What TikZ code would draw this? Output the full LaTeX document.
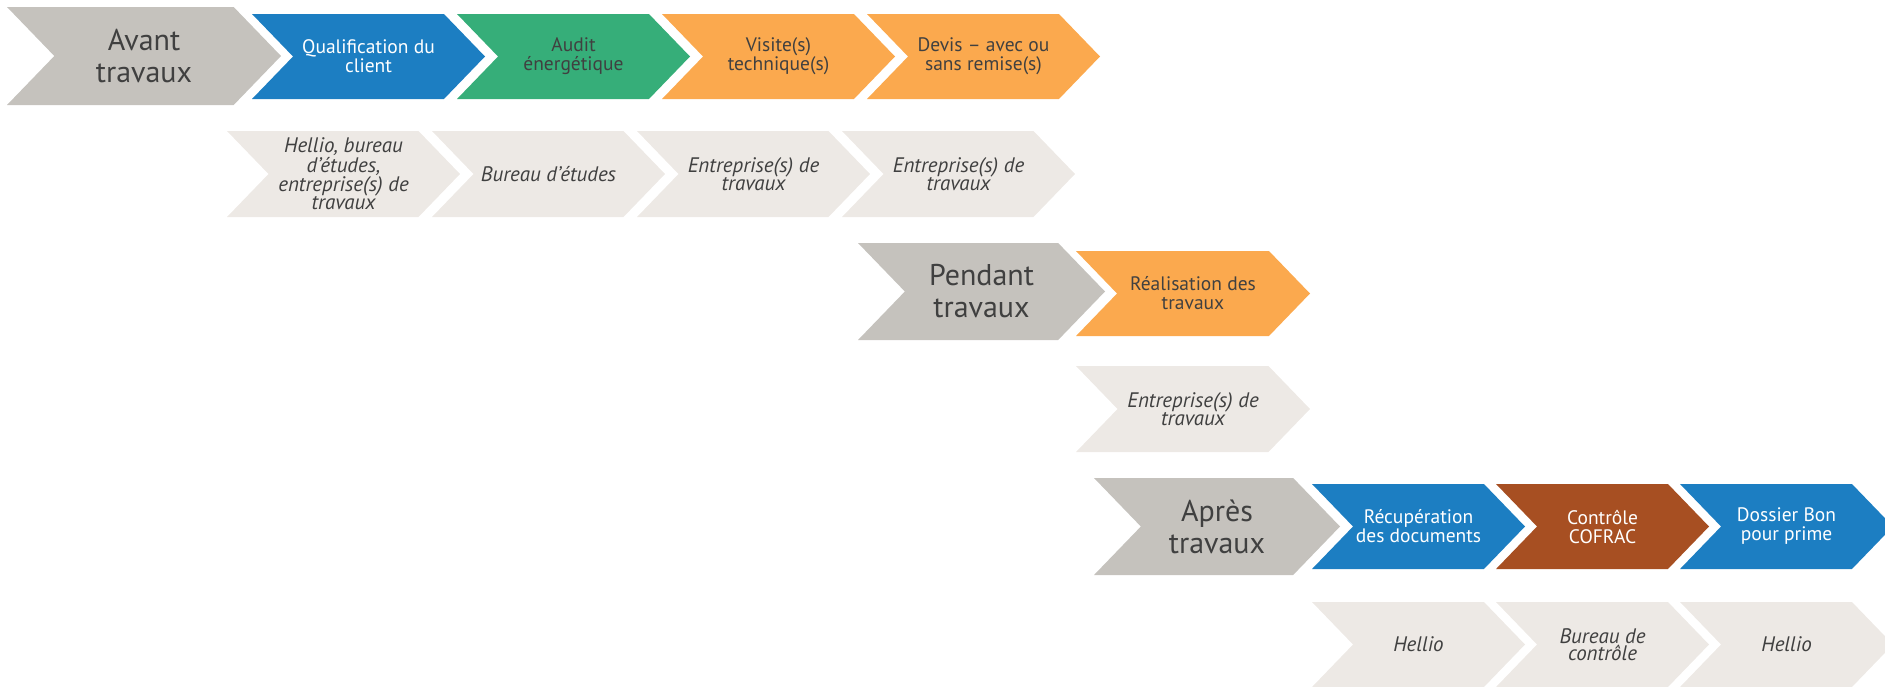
\documentclass[tikz,border=0pt]{standalone}
\usepackage{fontspec}
\setmainfont{PT Sans}
\usepackage{tikz}
\usetikzlibrary{shapes.symbols,positioning}

\definecolor{phasegray}{HTML}{C5C2BD}
\definecolor{stepblue}{HTML}{1C7EC2}
\definecolor{stepgreen}{HTML}{36AE79}
\definecolor{steporange}{HTML}{FBA94E}
\definecolor{stepbrown}{HTML}{A74F22}
\definecolor{actorgray}{HTML}{EDE9E5}
\definecolor{txtgray}{HTML}{404040}

\tikzset{
  chev/.style={shape=signal, signal from=west, signal to=east,
    signal pointer angle=92, inner sep=0pt, align=center, text=txtgray},
  phase/.style={chev, fill=phasegray, minimum height=97pt,
    font=\fontsize{30}{32}\selectfont},
  stepbox/.style={chev, minimum width=233pt, minimum height=85pt,
    font=\fontsize{19.5}{19}\selectfont},
  actor/.style={chev, fill=actorgray, minimum width=233pt, minimum height=86pt,
    font=\fontsize{21}{17.5}\selectfont\itshape}
}

\begin{document}
\begin{tikzpicture}[x=1pt,y=-1pt]

  \useasboundingbox (0,0) rectangle (1885,686);

  % avant travaux
  \node [phase, minimum width=274pt, minimum height=98pt] (avant) at (144,56) {Avant\\travaux};
  \node [stepbox, fill=stepblue, text=white] (qualif) at (368.5,56.5) {Qualification du\\client};
  \node [stepbox, fill=stepgreen] (audit) at (573.5,56.5) {Audit\\énergétique};
  \node [stepbox, fill=steporange] (visite) at (778.5,56.5) {Visite(s)\\technique(s)};
  \node [stepbox, fill=steporange] (devis) at (983.5,56.5) {Devis – avec ou\\sans remise(s)};

  \node [actor] (qualifwho) at (343.5,174) {Hellio, bureau\\d’études,\\entreprise(s) de\\travaux};
  \node [actor] (auditwho) at (548.5,174) {Bureau d’études};
  \node [actor] (visitewho) at (753.5,174) {Entreprise(s) de\\travaux};
  \node [actor] (deviswho) at (958.5,174) {Entreprise(s) de\\travaux};

  % pendant travaux
  \node [phase, minimum width=247pt] (pendant) at (981.5,291.5) {Pendant\\travaux};
  \node [stepbox, fill=steporange, minimum width=234pt] (realis) at (1193,293.5) {Réalisation des\\travaux};

  \node [actor, minimum width=234pt] (realiswho) at (1193,409) {Entreprise(s) de\\travaux};

  % apres travaux
  \node [phase, minimum width=246pt] (apres) at (1217,526.5) {Après\\travaux};
  \node [stepbox, fill=stepblue, text=white, minimum width=213pt] (recup) at (1418.5,526.5) {Récupération\\des documents};
  \node [stepbox, fill=stepbrown, text=white, minimum width=213pt] (controle) at (1602.5,526.5) {Contrôle\\COFRAC};
  \node [stepbox, fill=stepblue, text=white, minimum width=213pt] (dossier) at (1786.5,526.5) {Dossier Bon\\pour prime};

  \node [actor, minimum width=213pt, minimum height=85pt] (recupwho) at (1418.5,644.5) {Hellio};
  \node [actor, minimum width=213pt, minimum height=85pt] (controlewho) at (1602.5,644.5) {Bureau de\\contrôle};
  \node [actor, minimum width=213pt, minimum height=85pt] (dossierwho) at (1786.5,644.5) {Hellio};

\end{tikzpicture}
\end{document}
